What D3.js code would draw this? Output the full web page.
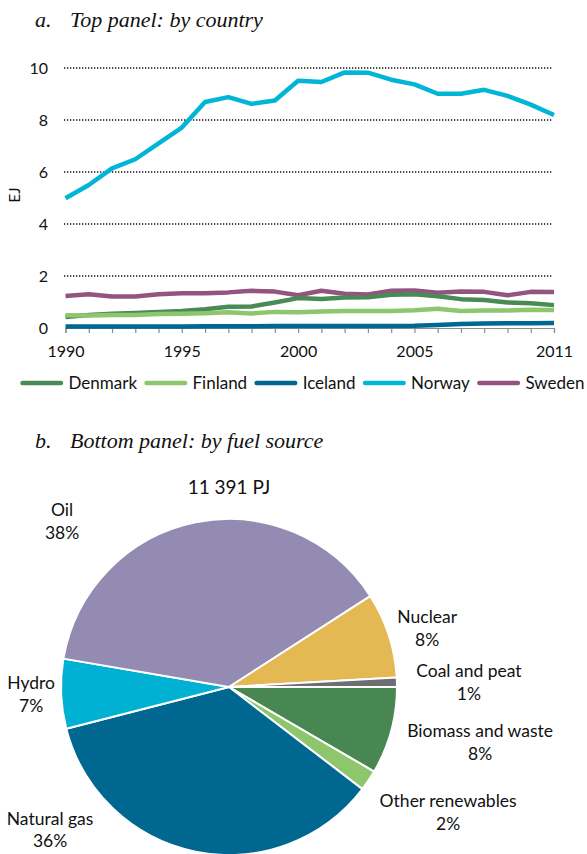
<!DOCTYPE html>
<html>
<head>
<meta charset="utf-8">
<script src="https://cdn.jsdelivr.net/npm/d3@7"></script>
<style>
  html,body{margin:0;padding:0;background:#fff;}
  svg{display:block;font-family:Lato,"Open Sans",sans-serif;}
</style>
</head>
<body>
<div id="chart"></div>
<script>
// Top panel: energy production by country (EJ), bottom: by fuel source (share)
const years = d3.range(1990, 2012);
const countries = ['Denmark','Finland','Iceland','Norway','Sweden'];
const denmark = [0.42,0.50,0.55,0.58,0.62,0.65,0.72,0.82,0.83,0.98,1.15,1.12,1.17,1.18,1.28,1.30,1.22,1.11,1.08,0.98,0.95,0.88];
const finland = [0.49,0.48,0.50,0.50,0.54,0.55,0.57,0.61,0.56,0.62,0.61,0.63,0.65,0.65,0.65,0.68,0.74,0.65,0.67,0.67,0.70,0.69];
const iceland = [0.06,0.06,0.06,0.06,0.06,0.06,0.07,0.07,0.07,0.08,0.08,0.08,0.08,0.08,0.08,0.09,0.12,0.15,0.17,0.18,0.18,0.19];
const norway  = [4.99,5.50,6.14,6.49,7.10,7.71,8.69,8.88,8.62,8.75,9.51,9.46,9.83,9.82,9.55,9.37,9.01,9.01,9.16,8.93,8.59,8.19];
const sweden  = [1.23,1.30,1.21,1.21,1.30,1.34,1.34,1.37,1.43,1.40,1.26,1.43,1.32,1.29,1.43,1.44,1.36,1.40,1.39,1.26,1.39,1.38];
const yTicks = [0,2,4,6,8,10];
const xLabels = [1990,1995,2000,2005,2011];

const fuels = ['Biomass and waste','Other renewables','Natural gas','Hydro','Oil','Nuclear','Coal and peat'];
const fuelShare = [8.4,2.0,35.6,6.7,38.2,8.2,0.9];
const totalLabel = '11 391 PJ';

const lineColors = {Denmark:'#4a8a55',Finland:'#8dc66d',Iceland:'#006790',Norway:'#00b5d6',Sweden:'#93547f'};
const fuelColors = {'Biomass and waste':'#488752','Other renewables':'#8dc66d','Natural gas':'#006790','Hydro':'#00b1d3','Oil':'#938bb1','Nuclear':'#e4b853','Coal and peat':'#6d6e71'};
// label nudges from the label-arc centroid (radius 200)
const labelNudge = {'Biomass and waste':[58,3],'Other renewables':[53,14],'Natural gas':[-139,-53],'Hydro':[2,-1],'Oil':[-127,30],'Nuclear':[8,3],'Coal and peat':[40,1]};

const W = 587, H = 854;
const svg = d3.select('#chart').append('svg').attr('width',W).attr('height',H);

// ---- titles
function title(y, letter, txt){
  const t = svg.append('g').attr('font-family','"Liberation Serif","Times New Roman",serif')
    .attr('font-style','italic').attr('font-size',22).attr('fill','#111');
  t.append('text').attr('x',35).attr('y',y).text(letter);
  t.append('text').attr('x',70).attr('y',y).text(txt);
}
title(27,'a.','Top panel: by country');
title(448,'b.','Bottom panel: by fuel source');

// ---- line chart
const x = d3.scaleLinear().domain([1990,2011]).range([65.5,554]);
const y = d3.scaleLinear().domain([0,10]).range([328,68]);

const grid = svg.append('g');
grid.selectAll('line').data(yTicks.filter(d=>d>0)).enter().append('line')
  .attr('x1',64).attr('x2',553).attr('y1',d=>y(d)).attr('y2',d=>y(d))
  .attr('stroke','#111').attr('stroke-width',1.3).attr('stroke-dasharray','1.3,1.7');

const yAxis = svg.append('g').attr('transform','translate(48,0)')
  .call(d3.axisLeft(y).tickValues(yTicks).tickSize(0).tickPadding(0));
yAxis.select('.domain').remove();
yAxis.selectAll('text').attr('font-family','Lato,sans-serif').attr('font-size',16).attr('fill','#111');

const xAxis = svg.append('g').attr('transform',`translate(0,${y(0)})`)
  .call(d3.axisBottom(x).tickValues(years).tickSize(5).tickFormat(d=>xLabels.includes(d)?d:'').tickPadding(13));
xAxis.select('.domain').attr('stroke','#8c8c8c').attr('stroke-width',1.2);
xAxis.selectAll('.tick line').attr('stroke','#8c8c8c').attr('stroke-width',1.2);
xAxis.selectAll('text').attr('font-family','Lato,sans-serif').attr('font-size',16).attr('fill','#111');

svg.append('text').attr('transform','translate(20,195) rotate(-90)').attr('text-anchor','middle')
  .attr('font-size',15).attr('fill','#111').text('EJ');

const series = {Denmark:denmark,Finland:finland,Iceland:iceland,Norway:norway,Sweden:sweden};
const line = d3.line().x((d,i)=>x(years[i])).y(d=>y(d));
['Sweden','Denmark','Finland','Norway','Iceland'].forEach(c=>{
  svg.append('path').datum(series[c]).attr('d',line).attr('fill','none')
    .attr('stroke',lineColors[c]).attr('stroke-width',4.5).attr('stroke-linejoin','round');
});

// legend
const leg = svg.append('g');
let lx = 22.5;
countries.forEach(c=>{
  leg.append('line').attr('x1',lx).attr('x2',lx+38.5).attr('y1',383).attr('y2',383)
    .attr('stroke',lineColors[c]).attr('stroke-width',4.5).attr('stroke-linecap','round');
  const t = leg.append('text').attr('x',lx+46).attr('y',383).attr('dy','0.35em')
    .attr('font-size',17).attr('fill','#111').text(c);
  lx = lx + 46 + t.node().getComputedTextLength() + 9.5;
});

// ---- pie
const cx = 229, cy = 687, r = 168;
const pie = d3.pie().sort(null).value(d=>d).startAngle(Math.PI/2).endAngle(Math.PI/2+2*Math.PI);
const arcs = pie(fuelShare);
const arc = d3.arc().innerRadius(0).outerRadius(r);
const labelArc = d3.arc().innerRadius(200).outerRadius(200);
const pg = svg.append('g').attr('transform',`translate(${cx},${cy})`);
pg.selectAll('path').data(arcs).enter().append('path')
  .attr('d',arc).attr('fill',(d,i)=>fuelColors[fuels[i]])
  .attr('stroke','#fff').attr('stroke-width',2).attr('stroke-linejoin','round');

const lab = pg.selectAll('text.lab').data(arcs).enter().append('text').attr('class','lab')
  .attr('text-anchor','middle').attr('font-size',17.5).attr('fill','#111')
  .attr('transform',(d,i)=>{
    const c = labelArc.centroid(d), n = labelNudge[fuels[i]];
    return `translate(${c[0]+n[0]},${c[1]+n[1]})`;
  });
lab.append('tspan').attr('x',0).attr('dy','-0.3em').text((d,i)=>fuels[i]);
lab.append('tspan').attr('x',0).attr('dy','1.3em').text(d=>Math.round(d.data)+'%');

svg.append('text').attr('x',cx).attr('y',487).attr('dy','0.35em').attr('text-anchor','middle')
  .attr('font-size',19).attr('fill','#111').text(totalLabel);
</script>
</body>
</html>
